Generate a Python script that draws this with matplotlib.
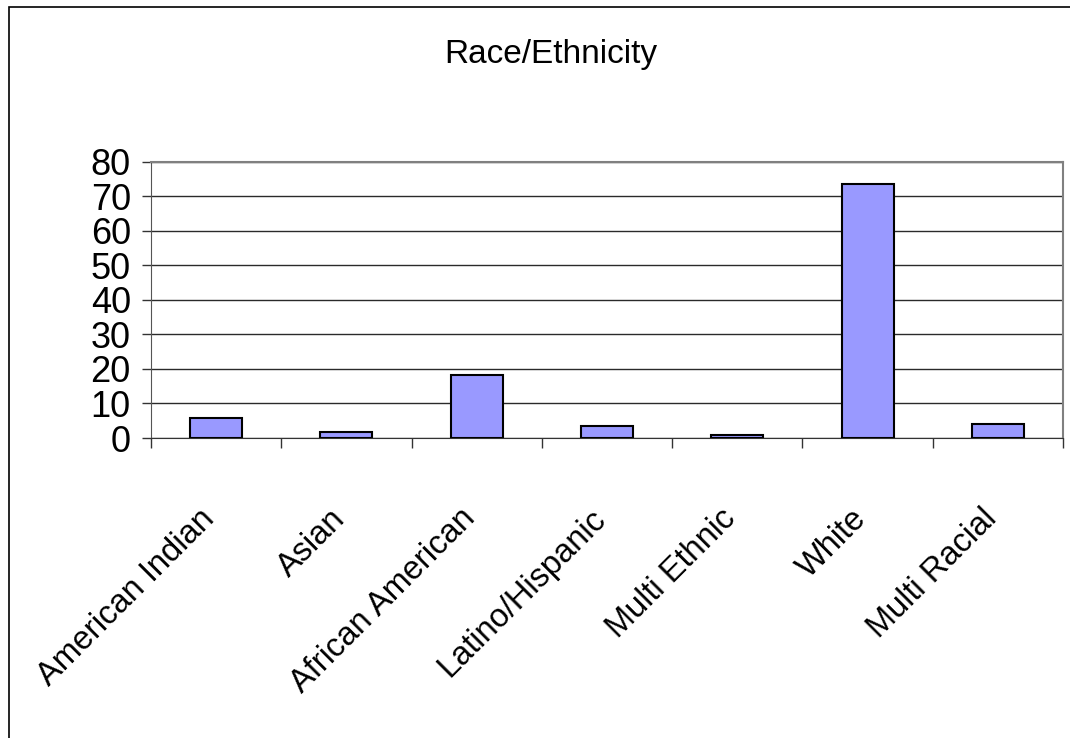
import matplotlib
matplotlib.use("Agg")
import matplotlib.pyplot as plt
from matplotlib.patches import Rectangle
import numpy as np

# race/ethnicity shares
categories = ["American Indian", "Asian", "African American", "Latino/Hispanic",
              "Multi Ethnic", "White", "Multi Racial"]
values = [5.8, 1.6, 18.1, 3.4, 0.8, 73.5, 4.1]
yticks = [0, 10, 20, 30, 40, 50, 60, 70, 80]
title = "Race/Ethnicity"

plt.rcParams['font.family'] = ['Liberation Sans', 'DejaVu Sans']

W, H = 1070, 738
fig = plt.figure(figsize=(W / 100, H / 100), dpi=100)
fig.patch.set_facecolor("white")

# outer chart border (only its left and top edges fall inside the picture)
fig.patches.append(Rectangle((9 / W, -0.05), 1.2, 1.05 - 7 / H,
                             transform=fig.transFigure, fill=False,
                             edgecolor="black", linewidth=1.2))

ax = fig.add_axes([151 / W, 300 / H, 912 / W, 276.3 / H])
x = np.arange(len(categories))
ax.bar(x, values, width=0.4, color="#9999FF", edgecolor="black", linewidth=1.5, zorder=3)

ax.set_xlim(-0.5, len(categories) - 0.5)
ax.set_ylim(0, 80)
ax.set_yticks(yticks)
ax.set_yticklabels([str(v) for v in yticks], fontsize=26)
ax.yaxis.grid(True, color="#2a2a2a", linewidth=1.0)
ax.set_axisbelow(True)

for s in ["top", "right"]:
    ax.spines[s].set_color("#808080")
    ax.spines[s].set_linewidth(1.5)
ax.spines["left"].set_color("#555555")
ax.spines["bottom"].set_color("#333333")
ax.tick_params(axis="y", direction="out", length=6.5, width=1, color="#333333", pad=8)

# category boundaries get the tick marks, labels sit at the centres
ax.set_xticks(np.arange(-0.5, len(categories), 1.0), minor=True)
ax.tick_params(axis="x", which="minor", direction="out", length=7.5, width=1, color="#333333")
ax.set_xticks(x)
ax.set_xticklabels(categories, rotation=45, ha="right", va="baseline",
                   rotation_mode="anchor", fontsize=23.5)
ax.tick_params(axis="x", which="major", length=0, pad=59)

fig.text(551 / W, 1 - 63 / H, title, ha="center", va="baseline", fontsize=24)

fig.savefig("out.png", dpi=100)
